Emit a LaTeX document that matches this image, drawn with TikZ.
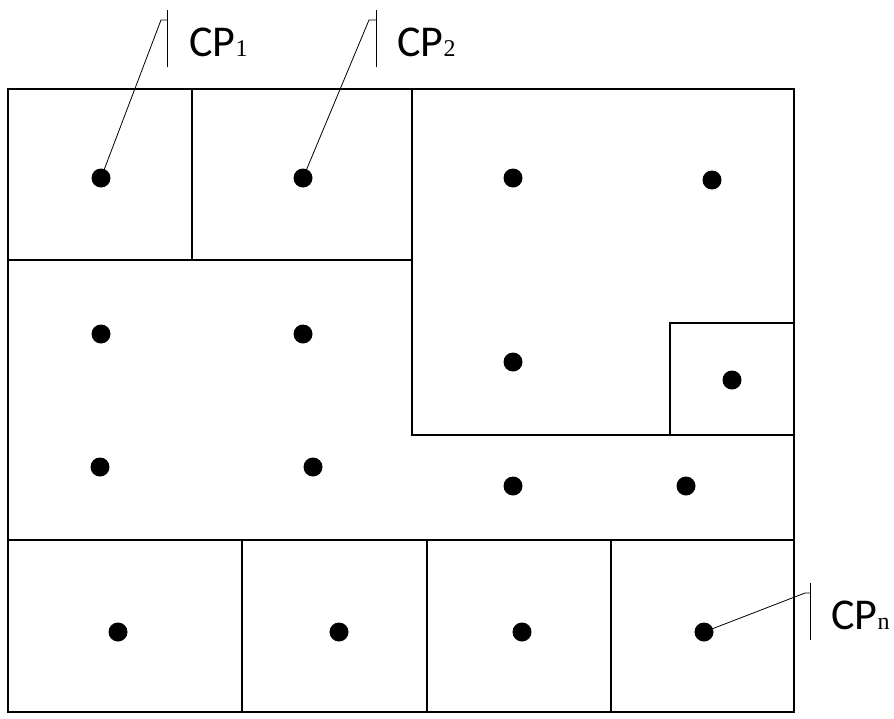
\documentclass[tikz,border=0pt]{standalone}
\usepackage{fontspec}
\setmainfont{Carlito}
\newfontfamily\subfont{Liberation Serif}
\newcommand{\cplab}[1]{\fontsize{44}{48}\selectfont CP{\subfont\fontsize{24}{28}\selectfont #1}}

\begin{document}
\begin{tikzpicture}[x=1pt,y=-1pt,
    wall/.style={line width=1.3pt},
    cpdot/.style={circle,fill=black,inner sep=0pt,minimum size=19pt},
    leader/.style={line width=0.8pt}]
        \useasboundingbox (0,0) rectangle (894,718);
        % frame and rooms
        \draw[wall] (8,89) rectangle (794,712);
        \draw[wall] (192,89) -- (192,260);
        \draw[wall] (8,260) -- (412,260);
        \draw[wall] (412,89) -- (412,435) -- (794,435);
        \draw[wall] (670,435) -- (670,323) -- (794,323);
        \draw[wall] (8,540) -- (794,540);
        \draw[wall] (242,540) -- (242,712);
        \draw[wall] (427,540) -- (427,712);
        \draw[wall] (611,540) -- (611,712);
        % control points
        \node[cpdot] (d1) at (101,178) {};
        \node[cpdot] (d2) at (303,178) {};
        \node[cpdot] (d3) at (513,178) {};
        \node[cpdot] (d4) at (712,180) {};
        \node[cpdot] (d5) at (101,334) {};
        \node[cpdot] (d6) at (303,334) {};
        \node[cpdot] (d7) at (513,362) {};
        \node[cpdot] (d8) at (732,380) {};
        \node[cpdot] (d9) at (100,467) {};
        \node[cpdot] (d10) at (313,467) {};
        \node[cpdot] (d11) at (513,486) {};
        \node[cpdot] (d12) at (686,486) {};
        \node[cpdot] (d13) at (118,632) {};
        \node[cpdot] (d14) at (339,632) {};
        \node[cpdot] (d15) at (522,632) {};
        \node[cpdot] (dn) at (704,632) {};
        % callouts
        \coordinate (k1) at (161,20);
        \coordinate (b1) at (167,20);
        \coordinate (t1) at (167,10);
        \coordinate (u1) at (167,67);
        \node[anchor=west] (cp1) at (186,42) {\cplab{1}};
        \draw[leader] (d1.center) -- (k1) -- (b1);
        \draw[leader] (t1) -- (u1);
        \coordinate (k2) at (369,20);
        \coordinate (b2) at (376,20);
        \coordinate (t2) at (376,10);
        \coordinate (u2) at (376,67);
        \node[anchor=west] (cp2) at (394,42) {\cplab{2}};
        \draw[leader] (d2.center) -- (k2) -- (b2);
        \draw[leader] (t2) -- (u2);
        \coordinate (kn) at (805,593);
        \coordinate (bn) at (810,593);
        \coordinate (tn) at (810,583);
        \coordinate (un) at (810,640);
        \node[anchor=west] (cpn) at (828,615) {\cplab{n}};
        \draw[leader] (dn.center) -- (kn) -- (bn);
        \draw[leader] (tn) -- (un);
\end{tikzpicture}
\end{document}
